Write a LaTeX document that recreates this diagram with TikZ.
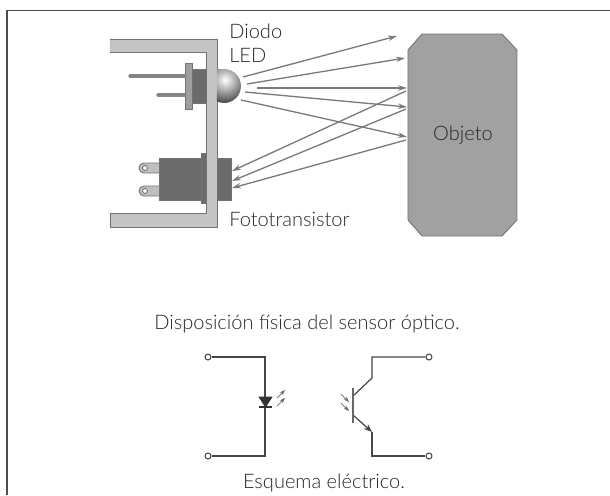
\documentclass[tikz,border=0pt]{standalone}
\usepackage{fontspec}
\setmainfont{Lato}[UprightFont=* Light]
\usepackage{tikz}
\usetikzlibrary{arrows.meta,calc}
\definecolor{wallgray}{gray}{0.77}
\definecolor{bodygray}{gray}{0.42}
\definecolor{objgray}{gray}{0.63}
\definecolor{inkgray}{gray}{0.15}
\tikzset{
  lbl/.style={text=inkgray, font=\fontsize{11.4}{13}\selectfont, inner sep=0pt},
  ray/.style={draw=black!52, line width=0.75pt, -{Stealth[length=1.8mm,width=1.1mm]}},
  part/.style={draw=black!55, line width=0.5pt},
  wire/.style={draw=black!72, line width=0.7pt},
  term/.style={circle, draw=black!72, fill=white, line width=0.6pt, minimum size=3.4pt, inner sep=0pt},
  tiny/.style={draw=black!60, line width=0.4pt, -{Stealth[length=1.1mm,width=0.8mm]}},
}
\begin{document}
\begin{tikzpicture}[x=0.02cm,y=-0.02cm]
  \useasboundingbox (0,0) rectangle (610,495);
  % Frame
  \draw[black!70, line width=0.6pt] (7,495) -- (7,10.5) -- (610,10.5);

  % Case
  \filldraw[part, fill=wallgray] (110,39) -- (217,39) -- (217,227) -- (110,227) -- (110,213)
    -- (206,213) -- (206,52) -- (110,52);

  % LED
  \filldraw[part, fill=bodygray] (192,69) rectangle (206,103);
  \filldraw[part, fill=black!38] (185,63) rectangle (192,109);
  \draw[black!48, line width=1.9pt, line cap=round] (130,76) -- (185,76);
  \draw[black!48, line width=1.9pt, line cap=round] (158,95) -- (185,95);
  \begin{scope}
    \clip (217,69) -- (224,69) arc (-90:90:17) -- (217,103) -- cycle;
    \shade[inner color=white, outer color=black!72] (225,80) circle (23);
  \end{scope}

  % Phototransistor
  \filldraw[part, fill=bodygray] (159,158) rectangle (201,200);
  \filldraw[part, fill=bodygray] (201,153) rectangle (206,203);
  \filldraw[part, fill=bodygray] (217,158) rectangle (231,200);
  \foreach \yy in {168,191} {
    \draw[black!55, fill=black!25, line width=0.5pt] (159,\yy-5) -- (144,\yy-5)
      arc (-90:-270:5) -- (159,\yy+5);
    \filldraw[black!55, fill=white, line width=0.5pt] (145,\yy) circle (2.5);
  }

  % Object
  \filldraw[part, fill=objgray] (422,34) -- (502,34) -- (517,50) -- (517,220) -- (502,236)
    -- (422,236) -- (408,220) -- (408,50) -- cycle;
  \node[lbl] (objeto) at (463,135) {Objeto};

  % Rays
  \coordinate (a1) at (243,77);
  \coordinate (a2) at (397,36);
  \coordinate (b1) at (247,84);
  \coordinate (b2) at (405,58);
  \coordinate (c1) at (257,88);
  \coordinate (c2) at (407,88);
  \coordinate (d1) at (245,92);
  \coordinate (d2) at (407,107);
  \coordinate (e1) at (241,100);
  \coordinate (e2) at (407,137);
  \coordinate (f1) at (406,91);
  \coordinate (f2) at (232,171);
  \coordinate (g1) at (406,109);
  \coordinate (g2) at (232,181);
  \coordinate (h1) at (406,140);
  \coordinate (h2) at (232,188);
  \foreach \p/\q in {a1/a2,b1/b2,c1/c2,d1/d2,e1/e2,f1/f2,g1/g2,h1/h2}
    \draw[ray] (\p) -- (\q);

  % Labels
  \node[lbl, anchor=west] (diodo) at (229,31) {Diodo};
  \node[lbl, anchor=west] (led) at (229,55) {LED};
  \node[lbl, anchor=west] (foto) at (229,219) {Fototransistor};
  \node[lbl] (disp) at (307,324) {Disposición física del sensor óptico.};
  \node[lbl] (esq) at (324,483) {Esquema eléctrico.};

  % LED symbol
  \node[term] (t1) at (208,357) {};
  \node[term] (t2) at (208,456) {};
  \coordinate (k1) at (265,357);
  \coordinate (k2) at (265,456);
  \draw[wire] (t1) -- (k1) -- (k2) -- (t2);
  \filldraw[black!80] (259,397) -- (272,397) -- (265.5,407) -- cycle;
  \draw[black!80, line width=0.8pt] (259,407) -- (272,407);
  \draw[tiny] (277,398) -- (285,390);
  \draw[tiny] (277,406) -- (285,398);

  % Transistor symbol
  \node[term] (t3) at (429,357) {};
  \node[term] (t4) at (429,456) {};
  \coordinate (c) at (372,378);
  \coordinate (ct) at (372,357);
  \coordinate (e) at (372,432);
  \coordinate (eb) at (372,456);
  \coordinate (bc) at (353,396);
  \coordinate (be) at (353,415);
  \draw[wire] (t3) -- (ct) -- (c) -- (bc);
  \draw[wire] (t4) -- (eb) -- (e);
  \draw[wire, -{Stealth[length=1.7mm,width=1.3mm]}] (be) -- (e);
  \draw[black!60, line width=0.9pt] (353,388) -- (353,423);
  \draw[tiny] (341,394) -- (349,402);
  \draw[tiny] (341,403) -- (349,411);
\end{tikzpicture}
\end{document}
